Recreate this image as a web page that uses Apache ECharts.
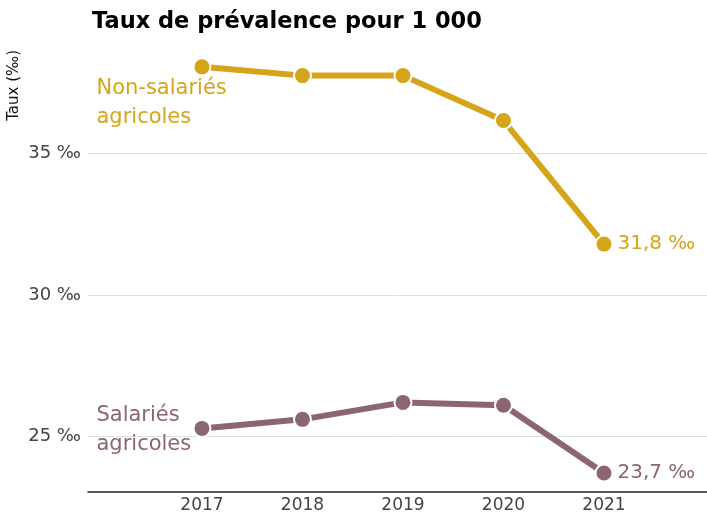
<!DOCTYPE html>
<html>
<head>
<meta charset="utf-8">
<title>Taux de prévalence</title>
<script src="https://cdn.jsdelivr.net/npm/echarts@6/dist/echarts.min.js"></script>
<style>
  html, body { margin: 0; padding: 0; background: #fff; }
  #chart { width: 707px; height: 514px; }
</style>
</head>
<body>
<div id="chart"></div>
<script>
// données
var years = [2017, 2018, 2019, 2020, 2021];
var nonSalaries = [38.07, 37.76, 37.76, 36.17, 31.8];
var salaries = [25.28, 25.6, 26.2, 26.1, 23.7];
var yTicks = [25, 30, 35];
var seriesNames = ['Non-salariés\nagricoles', 'Salariés\nagricoles'];

var gold = '#D5A419';
var mauve = '#8B6573';
var font = 'DejaVu Sans';

function pairs(values) {
  var out = [];
  for (let i = 0; i < years.length; ++i) {
    out.push([years[i], values[i]]);
  }
  return out;
}

function fmt(v) {
  return v.toFixed(1).replace('.', ',') + ' ‰';
}

function makeSeries(name, values, color, namePos) {
  var data = pairs(values).map(function (p, i) {
    var item = { value: p };
    if (i === 0) {
      // nom de la série à gauche du premier point
      item.label = {
        show: true,
        position: namePos,
        align: 'left',
        verticalAlign: 'top',
        formatter: name,
        color: color,
        fontFamily: font,
        fontSize: 21,
        lineHeight: 29
      };
    } else if (i === values.length - 1) {
      item.label = {
        show: true,
        position: 'right',
        distance: 4,
        formatter: fmt(values[i]),
        color: color,
        fontFamily: font,
        fontSize: 20
      };
    }
    return item;
  });
  return {
    type: 'line',
    name: name,
    data: data,
    symbol: 'circle',
    symbolSize: 17,
    lineStyle: { color: color, width: 6 },
    itemStyle: { color: color, borderColor: '#fff', borderWidth: 2 },
    label: { show: false },
    emphasis: { disabled: true },
    z: 3
  };
}

var chart = echarts.init(document.getElementById('chart'));

var option = {
  animation: false,
  backgroundColor: '#fff',
  title: {
    text: 'Taux de prévalence pour 1 000',
    left: 87,
    top: 6,
    textStyle: { fontFamily: font, fontWeight: 'bold', fontSize: 22.5, color: '#000' }
  },
  graphic: [{
    type: 'text',
    left: 7,
    top: 50,
    rotation: Math.PI / 2,
    style: { text: 'Taux (‰)', font: '15px "DejaVu Sans"', fill: '#111' }
  }],
  grid: { left: 88, right: 0, top: 40, bottom: 21 },
  xAxis: {
    type: 'value',
    min: 2015.866,
    max: 2022.025,
    splitLine: { show: false },
    axisTick: { show: false },
    axisLine: { show: true, lineStyle: { color: '#222', width: 1.5 } },
    axisLabel: {
      customValues: years,
      margin: 5,
      color: '#444',
      fontFamily: font,
      fontSize: 17,
      formatter: function (v) { return String(v); }
    }
  },
  yAxis: {
    type: 'value',
    min: 23.03,
    max: 39.02,
    axisLine: { show: false },
    axisTick: { show: false, customValues: yTicks },
    splitLine: { show: true, lineStyle: { color: '#e0e0e0', width: 1 } },
    axisLabel: {
      customValues: yTicks,
      margin: 7,
      color: '#444',
      fontFamily: font,
      fontSize: 18,
      formatter: function (v) { return v + ' ‰'; }
    }
  },
  series: [
    makeSeries(seriesNames[0], nonSalaries, gold, [-96, 17]),
    makeSeries(seriesNames[1], salaries, mauve, [-96, -18])
  ]
};

chart.setOption(option);
</script>
</body>
</html>
